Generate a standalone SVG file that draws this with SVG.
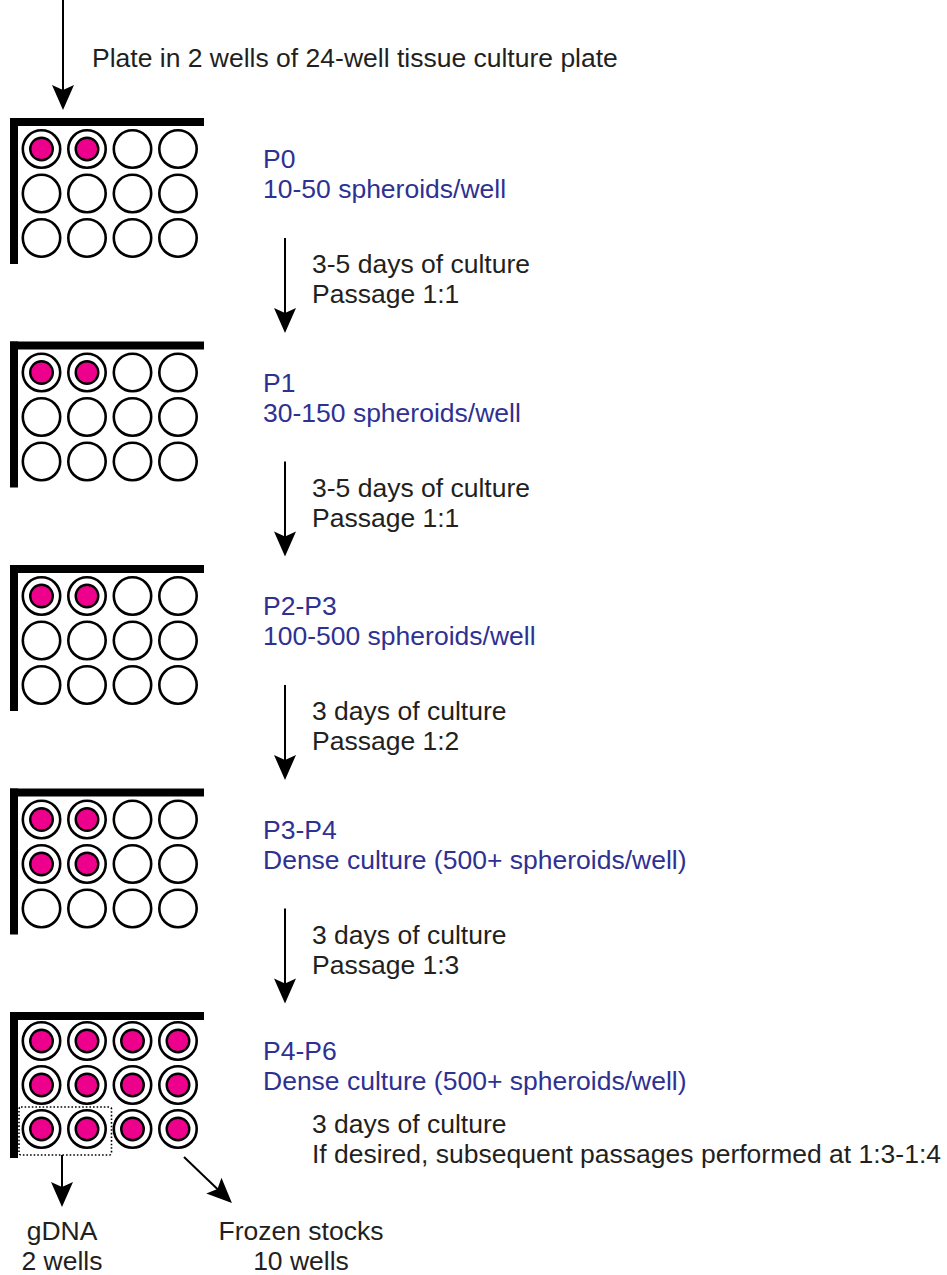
<svg xmlns="http://www.w3.org/2000/svg" xmlns:xlink="http://www.w3.org/1999/xlink" width="947" height="1275" viewBox="0 0 947 1275">
  <style>
    .txt { font-family: "Liberation Sans", Arial, sans-serif; font-size: 26.5px; fill: #231f20; }
    .stage { fill: #2e3192; }
    .bar { fill: #000; }
    .well { fill: #fff; stroke: #000; stroke-width: 2.6; }
    .dot { fill: #ec008c; stroke: #000; stroke-width: 2.4; }
    .arrow { stroke: #000; stroke-width: 2; fill: none; marker-end: url(#head); }
    .pick { fill: none; stroke: #000; stroke-width: 1.6; stroke-dasharray: 1.6 2; }
  </style>
  <defs>
    <marker id="head" viewBox="-26 -12 27 24" markerWidth="27" markerHeight="24" refX="-10" refY="0" orient="auto" markerUnits="userSpaceOnUse">
      <path d="M0,0 L-25,-11 L-20,0 L-25,11 Z" fill="#000"/>
    </marker>
    <!-- empty well -->
    <circle id="empty" r="18.7" class="well"/>
    <!-- well containing spheroids -->
    <g id="full">
      <circle r="18.7" class="well"/>
      <circle r="11.3" class="dot"/>
    </g>
    <!-- plate corner frame -->
    <g id="frame">
      <rect x="10" y="0" width="8" height="146" class="bar"/>
      <rect x="10" y="0" width="194" height="8" class="bar"/>
    </g>
  </defs>

  <text class="txt" x="92" y="67">Plate in 2 wells of 24-well tissue culture plate</text>

  <!-- P0 -->
  <g id="plate-p0" transform="translate(0,118)">
    <use xlink:href="#frame"/>
    <use xlink:href="#full" x="41.5" y="31"/>
    <use xlink:href="#full" x="87" y="31"/>
    <use xlink:href="#empty" x="132.5" y="31"/>
    <use xlink:href="#empty" x="178" y="31"/>
    <use xlink:href="#empty" x="41.5" y="75.5"/>
    <use xlink:href="#empty" x="87" y="75.5"/>
    <use xlink:href="#empty" x="132.5" y="75.5"/>
    <use xlink:href="#empty" x="178" y="75.5"/>
    <use xlink:href="#empty" x="41.5" y="120"/>
    <use xlink:href="#empty" x="87" y="120"/>
    <use xlink:href="#empty" x="132.5" y="120"/>
    <use xlink:href="#empty" x="178" y="120"/>
    <text class="txt stage" x="263" y="50">P0</text>
    <text class="txt stage" x="263" y="80">10-50 spheroids/well</text>
  </g>

  <!-- P1 -->
  <g id="plate-p1" transform="translate(0,341.5)">
    <use xlink:href="#frame"/>
    <use xlink:href="#full" x="41.5" y="31"/>
    <use xlink:href="#full" x="87" y="31"/>
    <use xlink:href="#empty" x="132.5" y="31"/>
    <use xlink:href="#empty" x="178" y="31"/>
    <use xlink:href="#empty" x="41.5" y="75.5"/>
    <use xlink:href="#empty" x="87" y="75.5"/>
    <use xlink:href="#empty" x="132.5" y="75.5"/>
    <use xlink:href="#empty" x="178" y="75.5"/>
    <use xlink:href="#empty" x="41.5" y="120"/>
    <use xlink:href="#empty" x="87" y="120"/>
    <use xlink:href="#empty" x="132.5" y="120"/>
    <use xlink:href="#empty" x="178" y="120"/>
    <text class="txt stage" x="263" y="50">P1</text>
    <text class="txt stage" x="263" y="80">30-150 spheroids/well</text>
  </g>

  <!-- P2-P3 -->
  <g id="plate-p2" transform="translate(0,565)">
    <use xlink:href="#frame"/>
    <use xlink:href="#full" x="41.5" y="31"/>
    <use xlink:href="#full" x="87" y="31"/>
    <use xlink:href="#empty" x="132.5" y="31"/>
    <use xlink:href="#empty" x="178" y="31"/>
    <use xlink:href="#empty" x="41.5" y="75.5"/>
    <use xlink:href="#empty" x="87" y="75.5"/>
    <use xlink:href="#empty" x="132.5" y="75.5"/>
    <use xlink:href="#empty" x="178" y="75.5"/>
    <use xlink:href="#empty" x="41.5" y="120"/>
    <use xlink:href="#empty" x="87" y="120"/>
    <use xlink:href="#empty" x="132.5" y="120"/>
    <use xlink:href="#empty" x="178" y="120"/>
    <text class="txt stage" x="263" y="50">P2-P3</text>
    <text class="txt stage" x="263" y="80">100-500 spheroids/well</text>
  </g>

  <!-- P3-P4 -->
  <g id="plate-p3" transform="translate(0,788.5)">
    <use xlink:href="#frame"/>
    <use xlink:href="#full" x="41.5" y="31"/>
    <use xlink:href="#full" x="87" y="31"/>
    <use xlink:href="#empty" x="132.5" y="31"/>
    <use xlink:href="#empty" x="178" y="31"/>
    <use xlink:href="#full" x="41.5" y="75.5"/>
    <use xlink:href="#full" x="87" y="75.5"/>
    <use xlink:href="#empty" x="132.5" y="75.5"/>
    <use xlink:href="#empty" x="178" y="75.5"/>
    <use xlink:href="#empty" x="41.5" y="120"/>
    <use xlink:href="#empty" x="87" y="120"/>
    <use xlink:href="#empty" x="132.5" y="120"/>
    <use xlink:href="#empty" x="178" y="120"/>
    <text class="txt stage" x="263" y="50">P3-P4</text>
    <text class="txt stage" x="263" y="80">Dense culture (500+ spheroids/well)</text>
  </g>

  <!-- P4-P6 -->
  <g id="plate-p4" transform="translate(0,1012)">
    <use xlink:href="#frame"/>
    <use xlink:href="#full" x="41.5" y="29"/>
    <use xlink:href="#full" x="87" y="29"/>
    <use xlink:href="#full" x="132.5" y="29"/>
    <use xlink:href="#full" x="178" y="29"/>
    <use xlink:href="#full" x="41.5" y="73"/>
    <use xlink:href="#full" x="87" y="73"/>
    <use xlink:href="#full" x="132.5" y="73"/>
    <use xlink:href="#full" x="178" y="73"/>
    <use xlink:href="#full" x="41.5" y="117"/>
    <use xlink:href="#full" x="87" y="117"/>
    <use xlink:href="#full" x="132.5" y="117"/>
    <use xlink:href="#full" x="178" y="117"/>
    <rect class="pick" x="19" y="95" width="92.5" height="48" rx="2"/>
    <text class="txt stage" x="263" y="48">P4-P6</text>
    <text class="txt stage" x="263" y="78">Dense culture (500+ spheroids/well)</text>
  </g>

  <!-- step notes -->
  <g id="notes">
    <text class="txt" x="312" y="273">3-5 days of culture</text>
    <text class="txt" x="312" y="303">Passage 1:1</text>
    <text class="txt" x="312" y="496.5">3-5 days of culture</text>
    <text class="txt" x="312" y="526.5">Passage 1:1</text>
    <text class="txt" x="312" y="720">3 days of culture</text>
    <text class="txt" x="312" y="750">Passage 1:2</text>
    <text class="txt" x="312" y="943.5">3 days of culture</text>
    <text class="txt" x="312" y="973.5">Passage 1:3</text>
    <text class="txt" x="312" y="1133">3 days of culture</text>
    <text class="txt" x="312" y="1163">If desired, subsequent passages performed at 1:3-1:4</text>
  </g>

  <!-- outputs -->
  <g id="gdna">
    <text class="txt" x="62" y="1240" text-anchor="middle">gDNA</text>
    <text class="txt" x="62" y="1270" text-anchor="middle">2 wells</text>
  </g>
  <g id="frozen">
    <text class="txt" x="301" y="1240" text-anchor="middle">Frozen stocks</text>
    <text class="txt" x="301" y="1270" text-anchor="middle">10 wells</text>
  </g>

  <!-- connectors -->
  <g id="connectors">
    <line class="arrow" x1="63" y1="0" x2="63" y2="100"/>
    <line class="arrow" x1="285" y1="238" x2="285" y2="323"/>
    <line class="arrow" x1="285" y1="461.5" x2="285" y2="546.5"/>
    <line class="arrow" x1="285" y1="685" x2="285" y2="770"/>
    <line class="arrow" x1="285" y1="908.5" x2="285" y2="993.5"/>
    <line class="arrow" x1="62" y1="1155" x2="62" y2="1197"/>
    <line class="arrow" x1="184" y1="1157" x2="224.7" y2="1196"/>
  </g>
</svg>
